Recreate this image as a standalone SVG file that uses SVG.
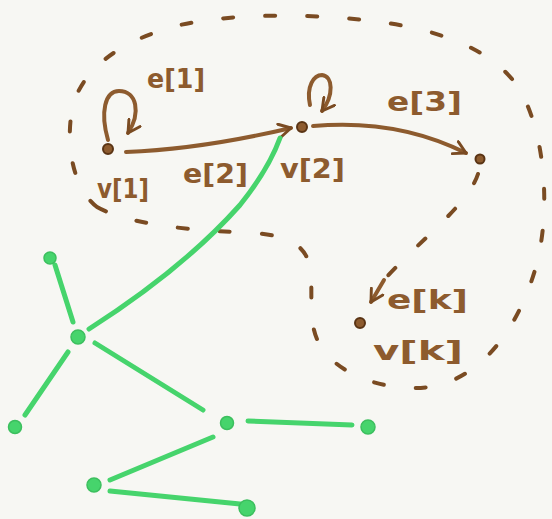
<svg xmlns="http://www.w3.org/2000/svg" width="552" height="519" viewBox="0 0 552 519">
<defs>
<style>
.br{fill:none;stroke:#8d5b2e;stroke-width:4;stroke-linecap:round;stroke-linejoin:round}
.dash{fill:none;stroke:#7a4b22;stroke-width:4;stroke-linecap:round;stroke-dasharray:10 32}
.gr{fill:none;stroke:#46d46c;stroke-width:5;stroke-linecap:round}
.gn{fill:#46d46c;stroke:#3cbf5e;stroke-width:1.5}
.bn{fill:#8d5b2e;stroke:#5a3414;stroke-width:2}
.lbl{font-family:"DejaVu Sans",sans-serif;font-weight:bold;font-size:26px;fill:#8d5b2e}
</style>
<marker id="ah" viewBox="0 0 12 12" refX="10" refY="6" markerWidth="4" markerHeight="4" orient="auto" markerUnits="strokeWidth">
<path d="M1,1 L10,6 L1,11" fill="none" stroke="#7a4b22" stroke-width="2.2" stroke-linecap="round" stroke-linejoin="round"/>
</marker>
</defs>
<rect width="552" height="519" fill="#f7f7f3"/>
<g id="connectors">
<path class="dash" d="M 97,207 C 120,220 170,230 240,232 C 280,234 300,240 308,260 C 316,285 305,320 320,345 C 340,380 400,395 440,385 C 490,370 520,320 535,270 C 550,220 548,140 520,90 C 495,50 440,30 380,22 C 320,14 240,12 180,25 C 120,40 80,70 72,110 C 65,150 75,190 97,207 Z"/>
<path class="br" d="M 108,140 C 100,112 105,91 119,91 C 137,91 141,113 128,133" marker-end="url(#ah)"/>
<path class="br" d="M 310,105 C 306,86 314,75 322,75 C 333,76 334,95 322,111" marker-end="url(#ah)"/>
<path class="br" d="M 126,152 C 180,150 240,140 291,128" marker-end="url(#ah)"/>
<path class="br" d="M 313,126 C 380,120 430,135 466,153" marker-end="url(#ah)"/>
<path class="dash" d="M 478,174 C 468,205 420,240 384,280"/>
<path class="br" d="M 384,280 L 371,302" marker-end="url(#ah)"/>
<path class="gr" d="M 89,329 C 150,290 200,250 240,205 C 260,180 272,160 280,138"/>
<path class="gr" d="M 55,265 L 73,322"/>
<path class="gr" d="M 68,352 L 25,415"/>
<path class="gr" d="M 95,343 L 203,410"/>
<path class="gr" d="M 248,421 L 352,425"/>
<path class="gr" d="M 213,437 L 110,480"/>
<path class="gr" d="M 110,491 L 240,504"/>
</g>
<g id="v1"><circle class="bn" cx="108" cy="149" r="5"/><text class="lbl" x="97" y="198" font-size="25" textLength="52" lengthAdjust="spacingAndGlyphs">v[1]</text></g>
<g id="e1"><text class="lbl" x="147" y="88" font-size="24" textLength="58" lengthAdjust="spacingAndGlyphs">e[1]</text></g>
<g id="e2"><text class="lbl" x="183" y="183" font-size="28" textLength="65" lengthAdjust="spacingAndGlyphs">e[2]</text></g>
<g id="v2"><circle class="bn" cx="302" cy="127" r="5"/><text class="lbl" x="280" y="178" font-size="28" textLength="65" lengthAdjust="spacingAndGlyphs">v[2]</text></g>
<g id="e3"><text class="lbl" x="387" y="111" font-size="28" textLength="75" lengthAdjust="spacingAndGlyphs">e[3]</text></g>
<g id="v3"><circle class="bn" cx="480" cy="159" r="4.5"/></g>
<g id="ek"><text class="lbl" x="387" y="309" font-size="30" textLength="81" lengthAdjust="spacingAndGlyphs">e[k]</text></g>
<g id="vk"><circle class="bn" cx="360" cy="323" r="5"/><text class="lbl" x="373" y="360" font-size="30" textLength="90" lengthAdjust="spacingAndGlyphs">v[k]</text></g>
<g id="gA"><circle class="gn" cx="50" cy="258" r="6"/></g>
<g id="gB"><circle class="gn" cx="78" cy="337" r="7"/></g>
<g id="gC"><circle class="gn" cx="15" cy="427" r="6.5"/></g>
<g id="gD"><circle class="gn" cx="227" cy="423" r="6.5"/></g>
<g id="gE"><circle class="gn" cx="368" cy="427" r="7"/></g>
<g id="gF"><circle class="gn" cx="94" cy="485" r="7"/></g>
<g id="gG"><circle class="gn" cx="247" cy="508" r="8"/></g>
</svg>
